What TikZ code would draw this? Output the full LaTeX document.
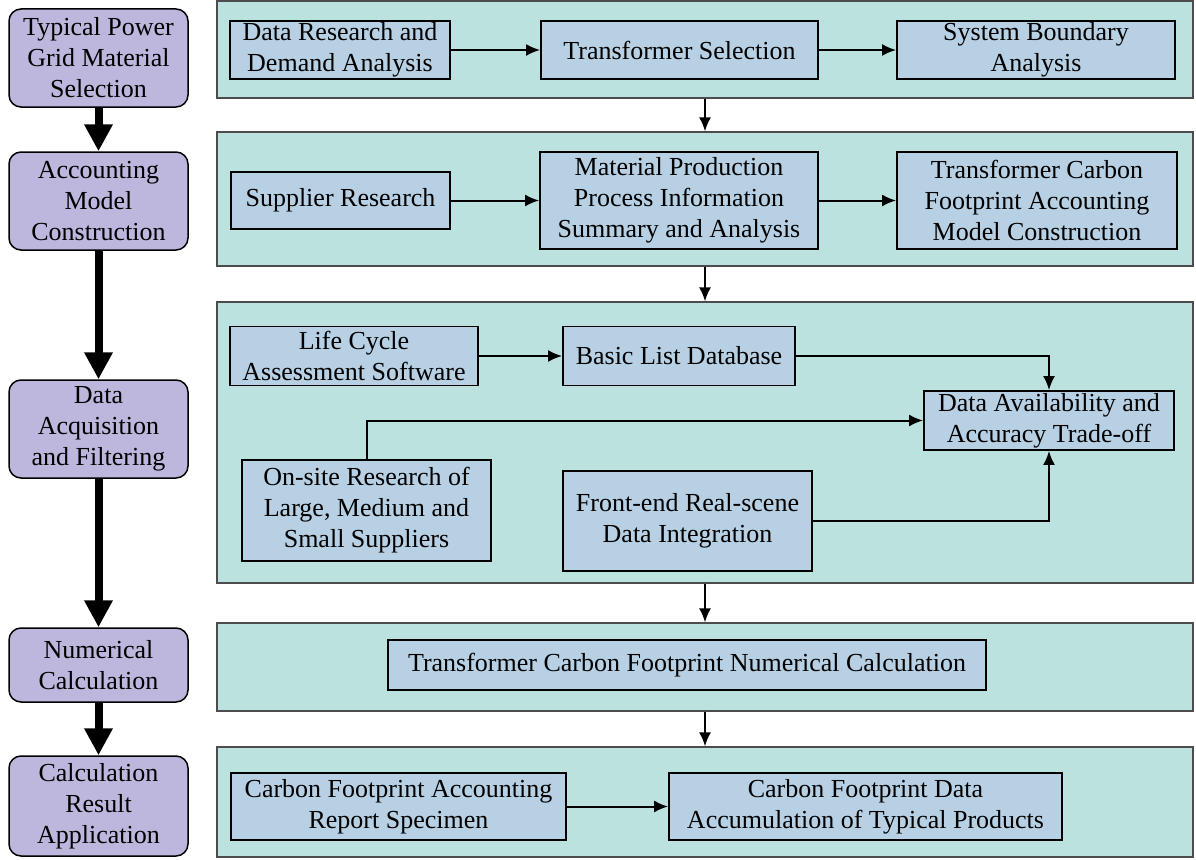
\documentclass[tikz,border=0pt]{standalone}
\usepackage{fontspec}
\setmainfont{Liberation Serif}
\usetikzlibrary{arrows.meta}
\definecolor{stagecol}{RGB}{189,182,221}
\definecolor{panelcol}{RGB}{187,226,222}
\definecolor{boxcol}{RGB}{183,208,227}

\begin{document}
\begin{tikzpicture}[x=1pt,y=-1pt,
  stage/.style={draw,line width=1.5pt,rounded corners=12pt,fill=stagecol,minimum width=179pt,inner sep=0pt,align=center,font=\fontsize{26}{31}\selectfont},
  panel/.style={draw=black!70,line width=1.2pt,fill=panelcol,minimum width=976pt,inner sep=0pt},
  proc/.style={draw,line width=1.8pt,fill=boxcol,inner sep=0pt,align=center,font=\fontsize{26}{31}\selectfont},
  >={Latex[length=14pt,width=12pt]}]
\useasboundingbox (0,0) rectangle (1196,859);
% left column
\node[stage,minimum height=98pt] (s1)at(98.5,58){Typical Power\\Grid Material\\Selection};
\node[stage,minimum height=98pt] (s2)at(98.5,201){Accounting\\Model\\Construction};
\node[stage,minimum height=98pt] (s3)at(98.5,429){Data\\Acquisition\\and Filtering};
\node[stage,minimum height=74pt] (s4)at(98.5,665){Numerical\\Calculation};
\node[stage,minimum height=100pt] (s5)at(98.5,806){Calculation\\Result\\Application};
\foreach \a/\b in {s1/s2,s2/s3,s3/s4,s4/s5}
  \draw[line width=8pt,-{Triangle[length=27pt,width=27pt]}] (\a) -- (\b);
% panels
\node[panel,minimum height=97pt] (p1)at(705,49.5){};
\node[panel,minimum height=134pt] (p2)at(705,199){};
\node[panel,minimum height=281pt] (p3)at(705,442.5){};
\node[panel,minimum height=88pt] (p4)at(705,667){};
\node[panel,minimum height=110pt] (p5)at(705,802){};
\foreach \a/\b in {p1/p2,p2/p3,p3/p4,p4/p5}
  \draw[->,line width=2pt] (\a.south) -- (\b.north);
% first panel
\node[proc,minimum width=220pt,minimum height=58pt] (a1)at(340,50){Data Research and\\Demand Analysis};
\node[proc,minimum width=277pt,minimum height=58pt] (a2)at(679.5,50){Transformer Selection};
\node[proc,minimum width=278pt,minimum height=58pt] (a3)at(1036,50){System Boundary\\Analysis};
\draw[->,line width=2pt] (a1) -- (a2);
\draw[->,line width=2pt] (a2) -- (a3);
% second panel
\node[proc,minimum width=219pt,minimum height=57pt] (b1)at(340.5,200.5){Supplier Research};
\node[proc,minimum width=278pt,minimum height=97pt] (b2)at(679,200.5){Material Production\\Process Information\\Summary and Analysis};
\node[proc,minimum width=280pt,minimum height=97pt] (b3)at(1037,200.5){Transformer Carbon\\Footprint Accounting\\Model Construction};
\draw[->,line width=2pt] (b1) -- (b2);
\draw[->,line width=2pt] (b2) -- (b3);
% third panel
\node[proc,minimum width=248pt,minimum height=59pt] (c1)at(354,356){Life Cycle\\Assessment Software};
\node[proc,minimum width=232pt,minimum height=59pt] (c2)at(679,356){Basic List Database};
\node[proc,minimum width=250pt,minimum height=59pt] (c3)at(1049,420.5){Data Availability and\\Accuracy Trade-off};
\node[proc,minimum width=249pt,minimum height=101pt] (c4)at(366.5,510.5){On-site Research of\\Large, Medium and\\Small Suppliers};
\node[proc,minimum width=249pt,minimum height=100pt] (c5)at(687.5,521){Front-end Real-scene\\Data Integration};
\draw[->,line width=2pt] (c1) -- (c2);
\draw[->,line width=2pt] (c2.east) -| (c3.north);
\draw[->,line width=2pt] (c4.north) |- (c3.west);
\draw[->,line width=2pt] (c5.east) -| (c3.south);
% fourth panel
\node[proc,minimum width=598pt,minimum height=50pt] (d1)at(687,665){Transformer Carbon Footprint Numerical Calculation};
% fifth panel
\node[proc,minimum width=335pt,minimum height=67pt] (e1)at(398.5,806.5){Carbon Footprint Accounting\\Report Specimen};
\node[proc,minimum width=393pt,minimum height=67pt] (e2)at(865.5,806.5){Carbon Footprint Data\\Accumulation of Typical Products};
\draw[->,line width=2pt] (e1) -- (e2);
\end{tikzpicture}
\end{document}
